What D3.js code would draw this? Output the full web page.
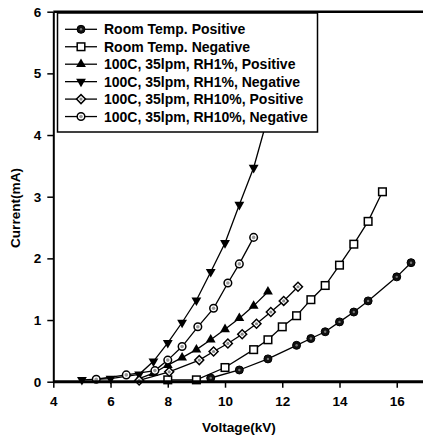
<!DOCTYPE html>
<html>
<head>
<meta charset="utf-8">
<script src="https://cdn.jsdelivr.net/npm/d3@7"></script>
<style>
  body { margin: 0; background: #fff; }
  svg { display: block; font-family: "Liberation Sans", Arial, sans-serif; }
</style>
</head>
<body>
<div class="canvas"></div>
<script>
// series: voltage (kV) and current (mA)
const rtPosV = [9.5, 10.5, 11.5, 12.5, 13, 13.5, 14, 14.5, 15, 16, 16.5]
const rtPosI = [0.06, 0.19, 0.37, 0.59, 0.70, 0.81, 0.97, 1.13, 1.31, 1.70, 1.93]

const rtNegV = [8, 9, 10, 11, 11.5, 12, 12.5, 13, 13.5, 14, 14.5, 15, 15.5]
const rtNegI = [0.03, 0.03, 0.23, 0.52, 0.68, 0.89, 1.07, 1.33, 1.56, 1.89, 2.23, 2.60, 3.08]

const rh1PosV = [7, 7.5, 8, 8.5, 9, 9.5, 10, 10.5, 11, 11.5]
const rh1PosI = [0.05, 0.14, 0.27, 0.39, 0.52, 0.68, 0.85, 1.03, 1.23, 1.46]

const rh1NegV = [5, 6, 7, 7.5, 8, 8.5, 9, 9.5, 10, 10.5, 11, 11.5, 12]
const rh1NegI = [0.03, 0.05, 0.12, 0.33, 0.63, 0.96, 1.32, 1.78, 2.25, 2.87, 3.47, 4.3, 5.3]

const rh10PosV = [7, 8.05, 9.1, 9.6, 10.1, 10.6, 11.1, 11.6, 12.05, 12.55]
const rh10PosI = [0.02, 0.16, 0.35, 0.49, 0.62, 0.77, 0.94, 1.13, 1.31, 1.54]

const rh10NegV = [5.5, 6.55, 7.55, 8, 8.5, 9.05, 9.6, 10.1, 10.5, 11]
const rh10NegI = [0.04, 0.11, 0.18, 0.35, 0.57, 0.89, 1.19, 1.60, 1.91, 2.34]

const seriesNames = [
    'Room Temp. Positive',
    'Room Temp. Negative',
    '100C, 35lpm, RH1%, Positive',
    '100C, 35lpm, RH1%, Negative',
    '100C, 35lpm, RH10%, Positive',
    '100C, 35lpm, RH10%, Negative'
]

const xTicks = [4, 6, 8, 10, 12, 14, 16]
const yTicks = [0, 1, 2, 3, 4, 5, 6]

const dims = { width: 423, height: 440 }
const plot = { left: 53.3, top: 11.7, bottom: 381.7 }

const series = [
    { name: seriesNames[0], v: rtPosV, i: rtPosI, mark: 'circleFill' },
    { name: seriesNames[1], v: rtNegV, i: rtNegI, mark: 'square' },
    { name: seriesNames[2], v: rh1PosV, i: rh1PosI, mark: 'triUp' },
    { name: seriesNames[3], v: rh1NegV, i: rh1NegI, mark: 'triDown' },
    { name: seriesNames[4], v: rh10PosV, i: rh10PosI, mark: 'diamond' },
    { name: seriesNames[5], v: rh10NegV, i: rh10NegI, mark: 'circleOpen' }
]

const x = d3.scaleLinear().domain([4, 17]).range([plot.left, plot.left + 13 * 28.62])
const y = d3.scaleLinear().domain([0, 6]).range([plot.bottom, plot.top])

const svg = d3.select('.canvas')
    .append('svg')
    .attr('width', dims.width)
    .attr('height', dims.height)

// marker drawing
const drawMark = (g, type) => {
    if (type === 'circleFill') {
        g.append('circle').attr('r', 4).attr('fill', '#111').attr('stroke', '#000').attr('stroke-width', 1)
        g.append('circle').attr('r', 1.2).attr('fill', '#777')
    } else if (type === 'square') {
        g.append('rect').attr('x', -3.8).attr('y', -3.8).attr('width', 7.6).attr('height', 7.6)
            .attr('fill', '#fff').attr('stroke', '#000').attr('stroke-width', 1.5)
    } else if (type === 'triUp') {
        g.append('path').attr('d', d3.symbol(d3.symbolTriangle, 42)())
            .attr('fill', '#000')
    } else if (type === 'triDown') {
        g.append('path').attr('d', d3.symbol(d3.symbolTriangle, 42)())
            .attr('transform', 'rotate(180)')
            .attr('fill', '#000')
    } else if (type === 'diamond') {
        g.append('path').attr('d', d3.symbol(d3.symbolSquare, 40)())
            .attr('transform', 'rotate(45)')
            .attr('fill', '#fff').attr('stroke', '#000').attr('stroke-width', 1.5)
        g.append('circle').attr('r', 1.6).attr('fill', '#888')
    } else {
        g.append('circle').attr('r', 3.8).attr('fill', '#fff').attr('stroke', '#000').attr('stroke-width', 1.5)
        g.append('circle').attr('r', 1.8).attr('fill', '#999')
    }
}

const line = d3.line()
    .x(d => x(d[0]))
    .y(d => y(d[1]))

// data
const dataG = svg.append('g')
series.forEach(s => {
    const pts = s.v.map((v, k) => [v, s.i[k]])
    dataG.append('path')
        .attr('d', line(pts))
        .attr('fill', 'none')
        .attr('stroke', '#000')
        .attr('stroke-width', 1.3)
    pts.forEach(p => {
        const g = dataG.append('g').attr('transform', `translate(${x(p[0])}, ${y(p[1])})`)
        drawMark(g, s.mark)
    })
})

// axes
const xAxis = d3.axisBottom(x).tickValues(xTicks).tickSize(6).tickSizeOuter(0).tickFormat(d3.format('d'))
const yAxis = d3.axisLeft(y).tickValues(yTicks).tickSize(6).tickSizeOuter(0).tickFormat(d3.format('d'))

const xg = svg.append('g')
    .attr('transform', `translate(0, ${plot.bottom})`)
    .call(xAxis)
xg.select('.domain').attr('stroke-width', 3).attr('d', `M${plot.left},0H${dims.width}`)
xg.selectAll('.tick line').attr('stroke-width', 1.5)
xg.selectAll('.tick text')
    .attr('font-size', 13.5).attr('font-weight', 'bold').attr('font-family', 'Liberation Sans, Arial, sans-serif')
    .attr('fill', '#000').attr('dy', '1.1em')

const yg = svg.append('g')
    .attr('transform', `translate(${plot.left}, 0)`)
    .call(yAxis)
yg.select('.domain').attr('stroke-width', 2)
yg.selectAll('.tick line').attr('stroke-width', 1.5)
yg.selectAll('.tick text')
    .attr('font-size', 13.5).attr('font-weight', 'bold').attr('font-family', 'Liberation Sans, Arial, sans-serif')
    .attr('fill', '#000').attr('x', -12)

// top frame line
svg.append('line')
    .attr('x1', plot.left).attr('x2', dims.width)
    .attr('y1', plot.top).attr('y2', plot.top)
    .attr('stroke', '#000').attr('stroke-width', 2.5)

// axis titles
svg.append('text')
    .attr('x', 239).attr('y', 432)
    .attr('text-anchor', 'middle')
    .attr('font-size', 13.6).attr('font-weight', 'bold')
    .text('Voltage(kV)')

svg.append('text')
    .attr('transform', 'translate(20, 208) rotate(-90)')
    .attr('text-anchor', 'middle')
    .attr('font-size', 13.6).attr('font-weight', 'bold')
    .text('Current(mA)')

// legend
const legend = svg.append('g')
legend.append('rect')
    .attr('x', 57.5).attr('y', 13)
    .attr('width', 260).attr('height', 119)
    .attr('fill', '#fff').attr('stroke', '#000').attr('stroke-width', 1.5)

series.forEach((s, k) => {
    const ly = 29.3 + k * 17.45
    legend.append('line')
        .attr('x1', 65).attr('x2', 97).attr('y1', ly).attr('y2', ly)
        .attr('stroke', '#000').attr('stroke-width', 1.3)
    drawMark(legend.append('g').attr('transform', `translate(81, ${ly})`), s.mark)
    legend.append('text')
        .attr('x', 104).attr('y', ly).attr('dy', '0.36em')
        .attr('font-size', 14).attr('font-weight', 'bold')
        .text(s.name)
})
</script>
</body>
</html>
